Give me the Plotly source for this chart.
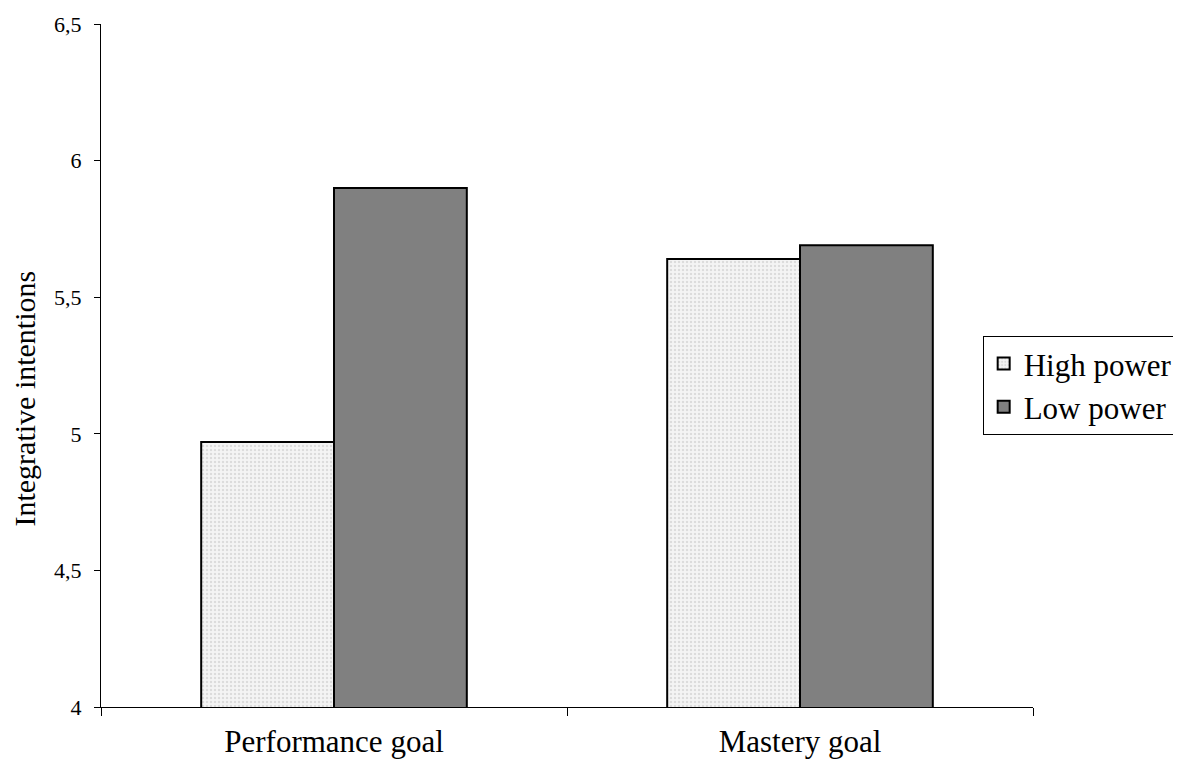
import plotly.graph_objects as go

categories = ["Performance goal", "Mastery goal"]
high_power = [4.97, 5.64]
low_power = [5.90, 5.69]
tick_vals = [4, 4.5, 5, 5.5, 6, 6.5]
tick_text = ["4", "4,5", "5", "5,5", "6", "6,5"]
y_title = "Integrative intentions"

FONT = "Liberation Serif, Times New Roman, serif"

fig = go.Figure()
fig.add_trace(go.Bar(
    x=categories, y=high_power, name="High power",
    marker=dict(color="#f2f2f2", line=dict(color="black", width=2),
                pattern=dict(shape=".", fgcolor="#c4c4c4", bgcolor="#f4f4f4", size=4, solidity=0.3)),
))
fig.add_trace(go.Bar(
    x=categories, y=low_power, name="Low power",
    marker=dict(color="#808080", line=dict(color="black", width=2)),
))

fig.add_annotation(
    text=y_title, textangle=-90, xref="paper", yref="paper",
    x=-0.082, y=0.451, xanchor="center", yanchor="middle", showarrow=False,
    font=dict(family=FONT, size=30, color="black"),
)

fig.update_layout(
    width=1181, height=760,
    margin=dict(l=93, r=156, t=16, b=61, autoexpand=False),
    paper_bgcolor="white", plot_bgcolor="white",
    barmode="group", bargap=0.43, bargroupgap=0,
    font=dict(family=FONT, color="black"),
    showlegend=True,
    legend=dict(x=0.946, y=0.471, xanchor="left", yanchor="middle",
                bordercolor="black", borderwidth=1, bgcolor="white",
                font=dict(family=FONT, size=31, color="black"),
                itemwidth=30),
    xaxis=dict(showline=True, linecolor="black", linewidth=1,
               ticks="outside", tickson="boundaries", ticklen=8, tickcolor="black",
               tickfont=dict(family=FONT, size=31, color="black"),
               ticklabelstandoff=7,
               showgrid=False, zeroline=False),
    yaxis=dict(range=[4, 6.5], showline=True, linecolor="black", linewidth=1,
               ticks="outside", ticklen=6, tickcolor="black",
               tickvals=tick_vals, ticktext=tick_text,
               tickfont=dict(family=FONT, size=22, color="black"),
               ticklabelstandoff=8,
               showgrid=False, zeroline=False),
)

fig.write_html("out.html")
